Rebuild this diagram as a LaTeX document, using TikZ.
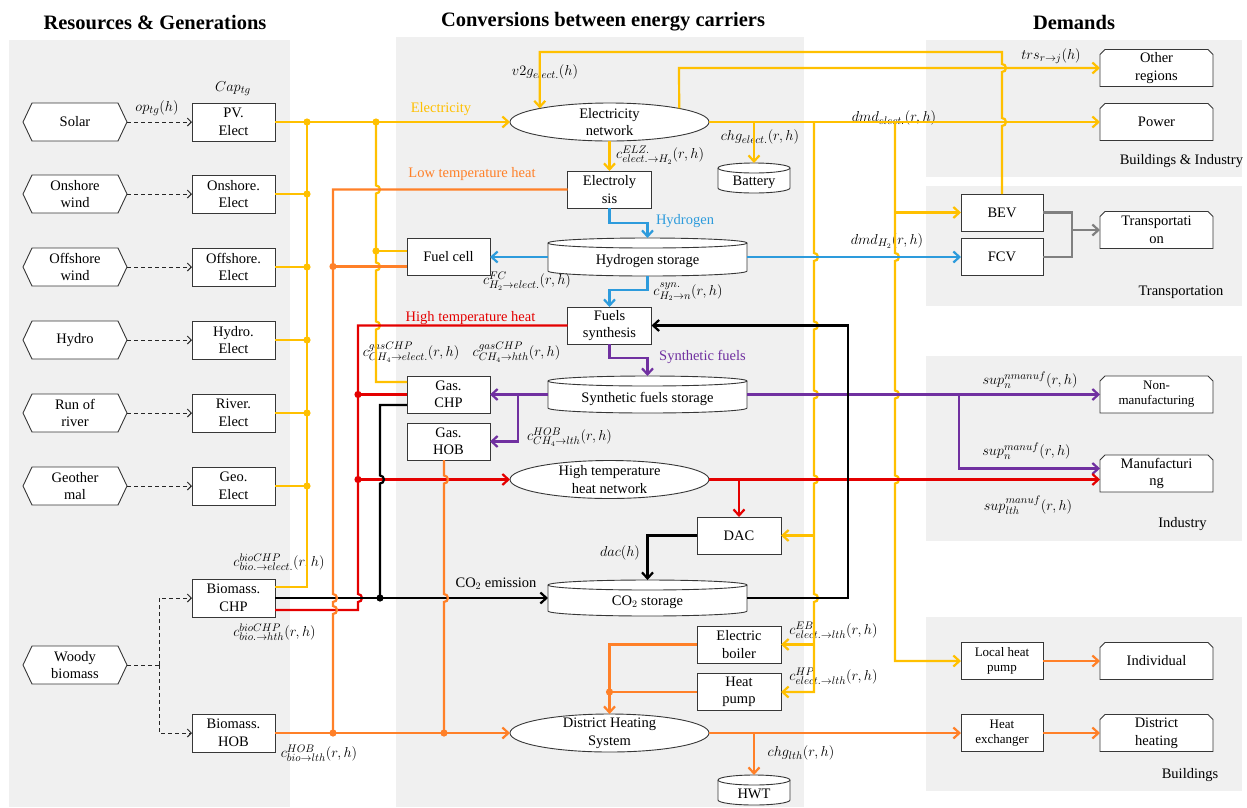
\documentclass[tikz,border=0pt]{standalone}
\usepackage{fontspec}
\setmainfont{Liberation Serif}
\usetikzlibrary{arrows.meta,shapes.geometric}
\definecolor{yel}{RGB}{255,192,0}
\definecolor{org}{RGB}{255,128,40}
\definecolor{rd}{RGB}{228,0,0}
\definecolor{blu}{RGB}{45,155,220}
\definecolor{pur}{RGB}{112,48,160}
\definecolor{gry}{RGB}{128,128,128}
\definecolor{panel}{RGB}{240,240,240}
\definecolor{bord}{RGB}{55,55,55}
\newcommand\nodefnt{\fontsize{14.5}{17.5}\selectfont}
\newcommand\smallfnt{\fontsize{13}{15}\selectfont}
\newcommand\mathfnt{\fontsize{15}{17}\selectfont}
\newcommand\titlefnt{\fontsize{20.5}{24}\selectfont\bfseries}
\newcommand\hexres[3]{%
 \path[shp] (23,#2) -- ++(9,-19) -- ++(86,0) -- ++(9,19) -- ++(-9,19) -- ++(-86,0) -- cycle
 node[txt,minimum width=104pt,minimum height=38pt] (#1) at (75,#2) {#3};}
\newcommand\cyl[6]{%
 \path[shp] ({#2-#4},{#3-#5+5}) -- ({#2-#4},{#3+#5-5}) arc[start angle=180,end angle=360,x radius=#4pt,y radius=5pt] -- ({#2+#4},{#3-#5+5}) arc[start angle=0,end angle=180,x radius=#4pt,y radius=5pt] -- cycle;
 \draw[bord,line width=0.9pt] ({#2-#4},{#3-#5+5}) arc[start angle=180,end angle=360,x radius=#4pt,y radius=5pt];
 \pgfmathsetmacro\cw{2*#4}\pgfmathsetmacro\ch{2*#5}
 \node[txt,minimum width=\cw pt,minimum height=\ch pt] (#1) at (#2,#3) {};
 \node[txt] (#1txt) at (#2,{#3+4}) {#6};}
\newcommand\dem[4][]{%
 \path[shp] (1100,{#3+18.5}) -- (1100,{#3-13.5}) -- (1105,{#3-18.5}) -- (1208,{#3-18.5}) -- (1213,{#3-13.5}) -- (1213,{#3+18.5}) -- cycle
 node[txt,minimum width=113pt,minimum height=37pt,#1] (#2) at (1156.5,#3) {#4};}
\begin{document}
\begin{tikzpicture}[x=1pt,y=-1pt,
 txt/.style={font=\nodefnt, align=center, inner sep=0pt, outer sep=0pt},
 gbox/.style={txt, draw=bord, line width=0.9pt, fill=white, minimum width=83pt, minimum height=37pt},
 ell/.style={ellipse, draw=bord, line width=0.9pt, fill=white, minimum width=199pt, minimum height=38pt, inner sep=0pt, outer sep=0pt},
 shp/.style={draw=bord, line width=0.9pt, fill=white},
 flow/.style={line width=2.2pt},
 fy/.style={flow, draw=yel}, fo/.style={flow, draw=org}, fr/.style={flow, draw=rd},
 fb/.style={flow, draw=blu}, fp/.style={flow, draw=pur}, fk/.style={flow, draw=black},
 fg/.style={flow, draw=gry},
 arr/.style={-{Straight Barb[length=6pt,width=11pt]}},
 darr/.style={-{Straight Barb[length=4pt,width=8pt]}},
 dsh/.style={draw=black!85, line width=1pt, dash pattern=on 4pt off 3pt},
 lbl/.style={font=\mathfnt, inner sep=0pt}]
\useasboundingbox (0,0) rectangle (1247,807);
% panels
\fill[panel] (9,40) rectangle (290,807);
\fill[panel] (396,37) rectangle (804,807);
\fill[panel] (926,40) rectangle (1242,177);
\fill[panel] (926,186) rectangle (1242,306);
\fill[panel] (926,356) rectangle (1242,541);
\fill[panel] (926,617) rectangle (1242,791);
% titles
\node[txt,font=\titlefnt] (tres) at (155,23) {Resources \& Generations};
\node[txt,font=\titlefnt] (tconv) at (603,22) {Conversions between energy carriers};
\node[txt,font=\titlefnt] (tdem) at (1074,22) {Demands};
% resources
\hexres{solar}{122}{Solar}
\hexres{onw}{194}{Onshore\\wind}
\hexres{ofw}{267}{Offshore\\wind}
\hexres{hyd}{340}{Hydro}
\hexres{ror}{413}{Run of\\river}
\hexres{geo}{486}{Geother\\mal}
\hexres{woody}{665}{Woody\\biomass}
% generation boxes
\node[gbox,minimum height=38pt] (pv) at (233.5,122) {PV.\\Elect};
\node[gbox,minimum height=38pt] (onel) at (233.5,194) {Onshore.\\Elect};
\node[gbox,minimum height=38pt] (ofel) at (233.5,267) {Offshore.\\Elect};
\node[gbox,minimum height=38pt] (hyel) at (233.5,340) {Hydro.\\Elect};
\node[gbox,minimum height=38pt] (rvel) at (233.5,413) {River.\\Elect};
\node[gbox,minimum height=38pt] (geel) at (233.5,486) {Geo.\\Elect};
\node[gbox,minimum height=38pt] (biochp) at (233.5,598) {Biomass.\\CHP};
\node[gbox,minimum height=38pt] (biohob) at (233.5,733) {Biomass.\\HOB};
% conversion nodes
\node[ell] (elnet) at (609.5,122) {};
\node[txt] (elnettxt) at (609.5,122) {Electricity\\network};
\node[gbox,minimum width=84pt] (elz) at (609.5,189.5) {Electroly\\sis};
\node[gbox] (fc) at (448.5,257) {Fuel cell};
\cyl{hst}{647.5}{257}{99.5}{19}{Hydrogen storage}
\node[gbox,minimum width=84pt] (fsyn) at (609.5,325.5) {Fuels\\synthesis};
\cyl{sfst}{647.5}{394.5}{99.5}{18.5}{Synthetic fuels storage}
\node[gbox] (gchp) at (448.5,394.5) {Gas.\\CHP};
\node[gbox] (ghob) at (448.5,441.5) {Gas.\\HOB};
\node[ell] (htnet) at (609.5,479.5) {};
\node[txt] (htnettxt) at (609.5,479.5) {High temperature\\heat network};
\node[gbox,minimum width=84pt] (dac) at (739,535.5) {DAC};
\cyl{co2}{647.5}{598}{99.5}{18}{CO$_2$ storage}
\node[gbox,minimum width=84pt] (eb) at (739,644.5) {Electric\\boiler};
\node[gbox,minimum width=84pt] (hp) at (739,692) {Heat\\pump};
\node[ell] (dhs) at (609.5,733) {};
\node[txt] (dhstxt) at (609.5,733) {District Heating\\System};
\cyl{bat}{754}{178}{36}{15}{Battery}
\cyl{hwt}{754}{790}{36}{15}{HWT}
% demand side
\node[gbox,minimum width=82pt] (bev) at (1002,212.5) {BEV};
\node[gbox,minimum width=82pt] (fcv) at (1002,257) {FCV};
\node[gbox,minimum width=82pt,font=\smallfnt] (lheatp) at (1002,661) {Local heat\\pump};
\node[gbox,minimum width=82pt,font=\smallfnt] (hx) at (1002,733) {Heat\\exchanger};
\dem{othr}{68}{Other\\regions}
\dem{powr}{122}{Power}
\dem{trsp}{230}{Transportati\\on}
\dem[font=\smallfnt]{nonm}{394.5}{Non-\\manufacturing}
\dem{manu}{473.5}{Manufacturi\\ng}
\dem{indv}{661}{Individual}
\dem{dhea}{733}{District\\heating}
% section labels
\node[txt,anchor=east] (sbi) at (1243,161) {Buildings \& Industry};
\node[txt] (str) at (1181,292) {Transportation};
\node[txt] (sin) at (1182.5,524) {Industry};
\node[txt] (sbu) at (1190,775) {Buildings};
% carrier labels
\node[txt,text=yel] (cel) at (441,109) {Electricity};
\node[txt,text=org] (clt) at (472,174) {Low temperature heat};
\node[txt,text=blu] (chy) at (685,221) {Hydrogen};
\node[txt,text=rd] (cht) at (470.5,318) {High temperature heat};
\node[txt,text=pur] (csf) at (702.5,357) {Synthetic fuels};
% math labels
\node[lbl] (mcap) at (233,89) {$Cap_{tg}$};
\node[lbl] (mop) at (157,108) {$op_{tg}(h)$};
\node[lbl] (mv2g) at (545,72) {$v2g_{elect.}(h)$};
\node[lbl] (mchg) at (760,137) {$chg_{elect.}(r,h)$};
\node[lbl,anchor=west] (melz) at (616,155) {$c^{ELZ.}_{elect.\rightarrow H_2}(r,h)$};
\node[lbl] (mtrs) at (1051,56) {$trs_{r\rightarrow j}(h)$};
\node[lbl] (mdmde) at (894,118) {$dmd_{elect.}(r,h)$};
\node[lbl] (mdmdh) at (887,241) {$dmd_{H_2}(r,h)$};
\node[lbl] (mfc) at (527,281) {$c^{FC}_{H_2\rightarrow elect.}(r,h)$};
\node[lbl] (msyn) at (688,292) {$c^{syn.}_{H_2\rightarrow n}(r,h)$};
\node[lbl] (mgce) at (411,352) {$c^{gasCHP}_{CH_4\rightarrow elect.}(r,h)$};
\node[lbl] (mgch) at (516.5,352) {$c^{gasCHP}_{CH_4\rightarrow hth}(r,h)$};
\node[lbl] (mhob) at (569.5,437) {$c^{HOB}_{CH_4\rightarrow lth}(r,h)$};
\node[lbl] (mdac) at (620,553) {$dac(h)$};
\node[txt] (mco2) at (496,584) {CO$_2$ emission};
\node[lbl] (meb) at (833.5,630) {$c^{EB}_{elect.\rightarrow lth}(r,h)$};
\node[lbl] (mhp) at (833.5,676) {$c^{HP}_{elect.\rightarrow lth}(r,h)$};
\node[lbl] (mchgl) at (801,753) {$chg_{lth}(r,h)$};
\node[lbl] (msnm) at (1030,380) {$sup^{nmanuf}_{n}(r,h)$};
\node[lbl] (msm) at (1026.5,451) {$sup^{manuf}_{n}(r,h)$};
\node[lbl] (msml) at (1028,505) {$sup^{manuf}_{lth}(r,h)$};
\node[lbl] (mbce) at (279,562) {$c^{bioCHP}_{bio.\rightarrow elect.}(r,h)$};
\node[lbl] (mbch) at (274.5,632) {$c^{bioCHP}_{bio.\rightarrow hth}(r,h)$};
\node[lbl] (mbhob) at (319,753) {$c^{HOB}_{bio\rightarrow lth}(r,h)$};
% dashed resource links
\foreach \a/\b in {solar/pv,onw/onel,ofw/ofel,hyd/hyel,ror/rvel,geo/geel}
  \draw[dsh,darr] (\a.east) -- (\b.west);
\coordinate (wsplit) at (159,665);
\draw[dsh] (woody.east) -- (wsplit);
\draw[dsh,darr] (wsplit) |- (biochp.west);
\draw[dsh,darr] (wsplit) |- (biohob.west);
% yellow
\coordinate (xA) at (307,0);
\draw[fy,arr] (pv.east) -- (elnet.west);
\foreach \n in {onel,ofel,hyel,rvel,geel} \draw[fy] (\n.east) -- (\n.east -| xA);
\draw[fy] (307,122) -- (307,587) -- ([yshift=11pt]biochp.east);
\draw[fy] (376,122) -- (376,185.5) arc[start angle=90,end angle=-90,radius=4pt] -- (376,262.5) arc[start angle=90,end angle=-90,radius=4pt] -- (376,321.5) arc[start angle=90,end angle=-90,radius=4pt] -- (376,382) -- ([yshift=12.5pt]gchp.west);
\draw[fy] ([yshift=6pt]fc.west) -- (376,251);
\draw[fy,arr] (elnet.east) -- (powr.west);
\draw[fy,arr] (elnet.11) -- (679,68) -- (othr.west);
\draw[fy,arr] (bev.north) -- (1002,126) arc[start angle=-90,end angle=90,radius=4pt] -- (1002,72) arc[start angle=-90,end angle=90,radius=4pt] -- (1002,52) -| (elnet.169.5);
\draw[fy,arr] (754,122) -- (bat.north);
\draw[fy,arr] (elnet.south) -- (elz.north);
\draw[fy,arr] (814,122) -- (814,253) arc[start angle=90,end angle=-90,radius=4pt] -- (814,321.5) arc[start angle=90,end angle=-90,radius=4pt] -- (814,390.5) arc[start angle=90,end angle=-90,radius=4pt] -- (814,475.5) arc[start angle=90,end angle=-90,radius=4pt] -- (814,594) arc[start angle=90,end angle=-90,radius=4pt] -- (814,692) -- (hp.east);
\draw[fy,arr] (814,535.5) -- (dac.east);
\draw[fy,arr] (814,644.5) -- (eb.east);
\draw[fy,arr] (895,122) -- (895,253) arc[start angle=90,end angle=-90,radius=4pt] -- (895,390.5) arc[start angle=90,end angle=-90,radius=4pt] -- (895,475.5) arc[start angle=90,end angle=-90,radius=4pt] -- (895,661) -- (lheatp.west);
\draw[fy,arr] (895,212.5) -- (bev.west);
% blue
\draw[fb,arr] (elz.south) -- (609.5,223) -| (hst.north);
\draw[fb,arr] (hst.west) -- (fc.east);
\draw[fb,arr] (hst.east) -- (fcv.west);
\draw[fb,arr] (hst.south) -- (647.5,290) -| (fsyn.north);
% purple
\draw[fp,arr] (fsyn.south) -- (609.5,358) -| (sfst.north);
\draw[fp,arr] (sfst.west) -- (gchp.east);
\draw[fp,arr] (518,394.5) |- (ghob.east);
\draw[fp,arr] (sfst.east) -- (nonm.west);
\draw[fp,arr] (959,394.5) |- ([yshift=5pt]manu.west);
% red
\draw[fr] (fsyn.west) -- (358,325.5) -- (358,594) arc[start angle=90,end angle=-90,radius=4pt] -- (358,610) -- ([yshift=-12pt]biochp.east);
\draw[fr] (gchp.west) -- (358,394.5);
\draw[fr,arr] (358,479.5) -- (htnet.west);
\draw[fr,arr] (htnet.east) -- ([yshift=-6pt]manu.west);
\draw[fr,arr] (739,479.5) -- (dac.north);
% black
\draw[fk,arr] (biochp.east) -- (co2.west);
\draw[fk] ([yshift=-10.5pt]gchp.west) -- (380,405) -- (380,475.5) arc[start angle=90,end angle=-90,radius=4pt] -- (380,598);
\draw[fk,arr] (co2.east) -- (848,598) -- (848,325.5) -- (fsyn.east);
\draw[fk,arr] (dac.west) -| (co2.north);
% orange
\draw[fo] (elz.west) -- (333,189.5) -- (333,594) arc[start angle=90,end angle=-90,radius=4pt] -- (333,606) arc[start angle=90,end angle=-90,radius=4pt] -- (333,733);
\draw[fo] ([yshift=-9.5pt]fc.west) -- (333,266.5);
\draw[fo,arr] (biohob.east) -- (dhs.west);
\draw[fo] ([xshift=-4.5pt]ghob.south) -- (444,475.5) arc[start angle=90,end angle=-90,radius=4pt] -- (444,594) arc[start angle=90,end angle=-90,radius=4pt] -- (444,733);
\draw[fo,arr] (eb.west) -| (dhs.north);
\draw[fo] (hp.west) -- (609.5,692);
\draw[fo,arr] (dhs.east) -- (hx.west);
\draw[fo,arr] (754,733) -- (hwt.north);
\draw[fo,arr] (lheatp.east) -- (indv.west);
\draw[fo,arr] (hx.east) -- (dhea.west);
% gray
\draw[fg] (bev.east) -- (1072,212.5) -- (1072,257) -- (fcv.east);
\draw[fg,arr] (1072,230) -- (trsp.west);
% junction dots
\foreach \p in {(307,122),(307,194),(307,267),(307,340),(307,413),(307,486),(376,122),(376,251)}
  \fill[yel] \p circle[radius=3.6pt];
\foreach \p in {(333,266.5),(333,733),(444,733),(609.5,692)}
  \fill[org] \p circle[radius=3.6pt];
\foreach \p in {(358,394.5),(358,479.5)}
  \fill[rd] \p circle[radius=3.6pt];
\fill[black] (380,598) circle[radius=3.6pt];
\end{tikzpicture}
\end{document}
